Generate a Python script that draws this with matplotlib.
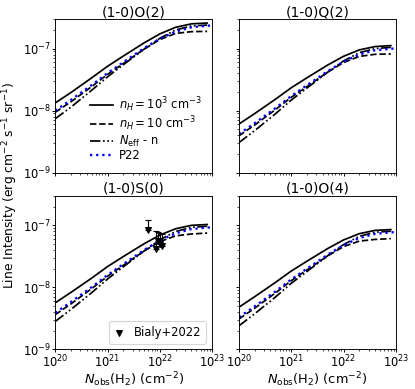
import numpy as np
import matplotlib
matplotlib.use("Agg")
import matplotlib.pyplot as plt

# column densities (cm^-2) at which the curves were read
N = [1e20, 2e20, 5e20, 1e21, 2e21, 5e21, 1e22, 2e22, 4e22, 8e22]
N_p22 = [1e20, 2e20, 5e20, 1e21, 2e21, 5e21, 1e22, 2e22, 4e22, 8e22, 1e23]

# (1-0)O(2)
o2_n1e3 = [1.33e-8, 1.96e-8, 3.39e-8, 5.19e-8, 7.59e-8, 1.24e-7, 1.73e-7, 2.21e-7, 2.51e-7, 2.59e-7]
o2_n10 = [9.42e-9, 1.39e-8, 2.45e-8, 3.85e-8, 5.75e-8, 9.82e-8, 1.40e-7, 1.76e-7, 1.88e-7, 1.90e-7]
o2_neff = [7.40e-9, 1.14e-8, 2.14e-8, 3.51e-8, 5.50e-8, 9.82e-8, 1.47e-7, 2.00e-7, 2.32e-7, 2.40e-7]
o2_p22 = [1.0e-8, 1.49e-8, 2.60e-8, 4.03e-8, 6.03e-8, 1.02e-7, 1.45e-7, 1.88e-7, 2.21e-7, 2.34e-7, 2.37e-7]

# (1-0)Q(2)
q2_n1e3 = [6.08e-9, 8.97e-9, 1.53e-8, 2.34e-8, 3.39e-8, 5.46e-8, 7.53e-8, 9.55e-8, 1.08e-7, 1.12e-7]
q2_n10 = [3.93e-9, 5.86e-9, 1.04e-8, 1.64e-8, 2.45e-8, 4.19e-8, 5.98e-8, 7.50e-8, 8.11e-8, 8.20e-8]
q2_neff = [3.05e-9, 4.76e-9, 8.91e-9, 1.48e-8, 2.32e-8, 4.19e-8, 6.34e-8, 8.61e-8, 1.00e-7, 1.05e-7]
q2_p22 = [4.21e-9, 6.28e-9, 1.10e-8, 1.72e-8, 2.57e-8, 4.34e-8, 6.19e-8, 8.04e-8, 9.42e-8, 9.95e-8, 1.01e-7]

# (1-0)S(0)
s0_n1e3 = [5.61e-9, 8.28e-9, 1.41e-8, 2.16e-8, 3.13e-8, 5.04e-8, 6.95e-8, 8.81e-8, 9.98e-8, 1.03e-7]
s0_n10 = [3.62e-9, 5.41e-9, 9.55e-9, 1.51e-8, 2.26e-8, 3.85e-8, 5.46e-8, 6.76e-8, 7.24e-8, 7.50e-8]
s0_neff = [2.81e-9, 4.40e-9, 8.22e-9, 1.36e-8, 2.14e-8, 3.86e-8, 5.85e-8, 7.94e-8, 9.27e-8, 9.66e-8]
s0_p22 = [3.88e-9, 5.79e-9, 1.01e-8, 1.58e-8, 2.37e-8, 4.00e-8, 5.71e-8, 7.41e-8, 8.69e-8, 9.18e-8, 9.29e-8]

# (1-0)O(4)
o4_n1e3 = [4.78e-9, 7.05e-9, 1.20e-8, 1.83e-8, 2.64e-8, 4.23e-8, 5.81e-8, 7.33e-8, 8.28e-8, 8.53e-8]
o4_n10 = [3.08e-9, 4.60e-9, 8.11e-9, 1.28e-8, 1.91e-8, 3.22e-8, 4.54e-8, 5.56e-8, 5.92e-8, 6.10e-8]
o4_neff = [2.39e-9, 3.74e-9, 6.98e-9, 1.16e-8, 1.80e-8, 3.24e-8, 4.89e-8, 6.64e-8, 7.73e-8, 8.04e-8]
o4_p22 = [3.30e-9, 4.93e-9, 8.59e-9, 1.34e-8, 2.00e-8, 3.37e-8, 4.81e-8, 6.22e-8, 7.28e-8, 7.69e-8, 7.76e-8]

# Bialy+2022 upper limits on S(0)
bialy_N = [6.0e21, 8.4e21, 9.3e21, 1.0e22, 1.1e22]
bialy_up = [1.2e-7, 8.0e-8, 7.8e-8, 7.6e-8, 7.2e-8]
bialy_tip = [8.3e-8, 4.1e-8, 5.6e-8, 5.0e-8, 4.7e-8]

panels = [
    ("(1-0)O(2)", o2_n1e3, o2_n10, o2_neff, o2_p22),
    ("(1-0)Q(2)", q2_n1e3, q2_n10, q2_neff, q2_p22),
    ("(1-0)S(0)", s0_n1e3, s0_n10, s0_neff, s0_p22),
    ("(1-0)O(4)", o4_n1e3, o4_n10, o4_neff, o4_p22),
]

fig, axs = plt.subplots(2, 2, sharex=True, sharey=True, figsize=(5.0, 389 / 83), dpi=83)
fig.subplots_adjust(left=0.133, right=0.954, bottom=0.102, top=0.951, wspace=0.17, hspace=0.15)

dashdotdot = (0, (6, 1.5, 1, 1.5, 1, 1.5))
for ax, (title, a, b, c, d) in zip(axs.flat, panels):
    ax.plot(N, a, c="k", lw=1.5, label=r"$n_H = 10^3$ cm$^{-3}$")
    ax.plot(N, b, c="k", lw=1.5, ls="--", label=r"$n_H = 10$ cm$^{-3}$")
    ax.plot(N, c, c="k", lw=1.5, ls=dashdotdot, label=r"$N_{\rm eff}$ - n")
    ax.plot(N_p22, d, c="blue", lw=2, ls=":", label="P22")
    ax.set_xscale("log")
    ax.set_yscale("log")
    ax.set_title(title, pad=2)
    ax.tick_params(which="major", length=2.5, pad=1.5)
    ax.tick_params(which="minor", length=1.5)

axs[0, 0].set_xlim(1e20, 1e23)
axs[0, 0].set_ylim(1e-9, 3e-7)
axs[0, 0].legend(loc="lower right", frameon=False, labelspacing=0.05,
                 handletextpad=0.5, borderaxespad=0.5)

s0 = axs[1, 0]
s0.errorbar(bialy_N, bialy_up,
            yerr=[np.array(bialy_up) - np.array(bialy_tip), np.zeros(len(bialy_up))],
            fmt="none", ecolor="k", elinewidth=1, capsize=3)
s0.scatter(bialy_N, bialy_tip, marker="v", c="k", s=25, zorder=5, label="Bialy+2022")
s0.legend(handles=[s0.collections[-1]], loc="lower right", handlelength=1.0)

for ax in axs[1]:
    ax.set_xlabel(r"$N_{\rm obs}$(H$_2$) (cm$^{-2}$)", fontsize=11.2, labelpad=-0.5)
fig.supylabel(r"Line Intensity (erg cm$^{-2}$ s$^{-1}$ sr$^{-1}$)", x=0.0, y=0.524,
              fontsize=10.7)

plt.savefig("out.png", dpi=83)
